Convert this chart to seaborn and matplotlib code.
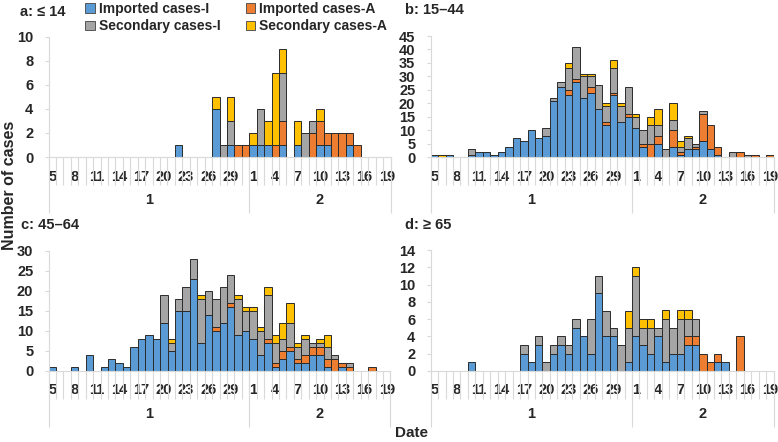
import numpy as np
import pandas as pd
import seaborn as sns
import matplotlib
matplotlib.use("Agg")
from matplotlib import pyplot as plt
from matplotlib.patches import Patch

# x axis: Jan 5..31 then Feb 1..19
jan_days = list(range(5, 32))
feb_days = list(range(1, 20))
day_labels = [str(d) for d in jan_days + feb_days]
month_labels = ["1", "2"]

kinds = ["Imported cases-I", "Imported cases-A", "Secondary cases-I", "Secondary cases-A"]
colors = ["#5B9BD5", "#ED7D31", "#A5A5A5", "#FFC000"]

# panel a: <= 14   (27 values for Jan 5-31, then 19 values for Feb 1-19)
a_imp_i = [0, 0, 0, 0, 0, 0, 0, 0, 0, 0, 0, 0, 0, 0, 0, 0, 0, 1, 0, 0, 0, 0, 4, 0, 1, 0, 0,
           1, 1, 1, 0, 1, 0, 1, 0, 0, 1, 1, 0, 0, 1, 0, 0, 0, 0, 0]
a_imp_a = [0, 0, 0, 0, 0, 0, 0, 0, 0, 0, 0, 0, 0, 0, 0, 0, 0, 0, 0, 0, 0, 0, 0, 0, 0, 1, 1,
           0, 0, 0, 1, 2, 0, 0, 0, 2, 2, 1, 2, 2, 1, 1, 0, 0, 0, 0]
a_sec_i = [0, 0, 0, 0, 0, 0, 0, 0, 0, 0, 0, 0, 0, 0, 0, 0, 0, 0, 0, 0, 0, 0, 0, 1, 2, 0, 0,
           0, 3, 0, 0, 4, 0, 0, 2, 1, 0, 0, 0, 0, 0, 0, 0, 0, 0, 0]
a_sec_a = [0, 0, 0, 0, 0, 0, 0, 0, 0, 0, 0, 0, 0, 0, 0, 0, 0, 0, 0, 0, 0, 0, 1, 0, 2, 0, 0,
           1, 0, 2, 6, 2, 0, 2, 0, 0, 1, 0, 0, 0, 0, 0, 0, 0, 0, 0]

# panel b: 15-44
b_imp_i = [1, 0, 1, 0, 0, 1, 2, 2, 1, 2, 4, 7, 6, 10, 7, 8, 21, 26, 23, 28, 22, 24, 18, 12, 23, 13, 15,
           11, 4, 0, 5, 0, 4, 1, 3, 3, 6, 3, 1, 0, 0, 0, 0, 0, 0, 0]
b_imp_a = [0, 0, 0, 0, 0, 0, 0, 0, 0, 0, 0, 0, 0, 0, 0, 0, 0, 0, 2, 1, 0, 2, 0, 1, 1, 0, 1,
           0, 1, 5, 3, 0, 6, 1, 0, 1, 10, 9, 3, 0, 0, 2, 0, 1, 0, 1]
b_sec_i = [0, 0, 0, 0, 0, 2, 0, 0, 0, 0, 0, 0, 0, 0, 0, 3, 1, 2, 8, 12, 8, 4, 9, 6, 9, 6, 10,
           4, 5, 7, 4, 3, 4, 2, 4, 1, 1, 0, 0, 0, 2, 0, 1, 0, 0, 0]
b_sec_a = [0, 1, 0, 0, 0, 0, 0, 0, 0, 0, 0, 0, 0, 0, 0, 0, 0, 0, 2, 0, 1, 1, 0, 1, 3, 1, 0,
           1, 0, 3, 6, 0, 6, 2, 1, 0, 0, 0, 0, 0, 0, 0, 0, 0, 0, 0]

# panel c: 45-64
c_imp_i = [1, 0, 0, 1, 0, 4, 0, 1, 3, 2, 1, 6, 8, 9, 8, 12, 5, 15, 15, 23, 7, 14, 10, 12, 16, 9, 10,
           8, 4, 7, 1, 3, 5, 2, 2, 4, 4, 1, 0, 1, 0, 0, 0, 0, 0, 0]
c_imp_a = [0, 0, 0, 0, 0, 0, 0, 0, 0, 0, 0, 0, 0, 0, 0, 0, 0, 0, 0, 0, 0, 0, 1, 0, 1, 0, 0,
           0, 0, 1, 1, 2, 1, 1, 2, 2, 2, 2, 3, 1, 1, 0, 0, 1, 0, 0]
c_sec_i = [0, 0, 0, 0, 0, 0, 0, 0, 0, 0, 0, 0, 0, 0, 0, 7, 2, 3, 6, 5, 11, 6, 7, 9, 7, 9, 5,
           7, 6, 11, 5, 3, 6, 3, 4, 1, 1, 3, 1, 0, 1, 0, 0, 0, 0, 0]
c_sec_a = [0, 0, 0, 0, 0, 0, 0, 0, 0, 0, 0, 0, 0, 0, 0, 0, 1, 0, 0, 0, 1, 0, 0, 0, 0, 1, 1,
           1, 1, 2, 2, 4, 5, 1, 1, 0, 1, 3, 0, 0, 0, 0, 0, 0, 0, 0]

# panel d: >= 65
d_imp_i = [0, 0, 0, 0, 0, 1, 0, 0, 0, 0, 0, 0, 2, 1, 3, 0, 2, 3, 2, 5, 4, 2, 9, 4, 4, 0, 1,
           4, 3, 2, 4, 1, 2, 2, 3, 3, 0, 0, 1, 1, 0, 0, 0, 0, 0, 0]
d_imp_a = [0, 0, 0, 0, 0, 0, 0, 0, 0, 0, 0, 0, 0, 0, 0, 0, 0, 0, 0, 0, 0, 0, 0, 0, 0, 0, 0,
           0, 0, 0, 0, 0, 0, 0, 1, 1, 2, 1, 1, 0, 0, 4, 0, 0, 0, 0]
d_sec_i = [0, 0, 0, 0, 0, 0, 0, 0, 0, 0, 0, 0, 1, 0, 1, 1, 1, 1, 1, 1, 0, 4, 2, 3, 1, 3, 4,
           7, 2, 3, 1, 5, 3, 4, 2, 2, 0, 0, 0, 0, 0, 0, 0, 0, 0, 0]
d_sec_a = [0, 0, 0, 0, 0, 0, 0, 0, 0, 0, 0, 0, 0, 0, 0, 0, 0, 0, 0, 0, 0, 0, 0, 0, 0, 0, 2,
           1, 1, 1, 0, 1, 0, 1, 1, 0, 0, 0, 0, 0, 0, 0, 0, 0, 0, 0]

panels = [
    ("a: \u2264 14", [a_imp_i, a_imp_a, a_sec_i, a_sec_a], 10, 2),
    ("b: 15\u201344", [b_imp_i, b_imp_a, b_sec_i, b_sec_a], 45, 5),
    ("c: 45\u201364", [c_imp_i, c_imp_a, c_sec_i, c_sec_a], 30, 5),
    ("d: \u2265 65", [d_imp_i, d_imp_a, d_sec_i, d_sec_a], 14, 2),
]


def long_frame(series):
    rows = []
    for kind, counts in zip(kinds, series):
        for i, n in enumerate(counts):
            if n:
                rows.append((i, kind, n))
    return pd.DataFrame(rows, columns=["day", "kind", "cases"])


sns.set_theme(style="white")
plt.rcParams["font.family"] = ["Liberation Sans", "DejaVu Sans"]
plt.rcParams["font.weight"] = "bold"

fig = plt.figure(figsize=(7.78, 4.42), dpi=100)
W, H = 778, 442
# axes boxes in pixels: left, top, right, bottom
boxes = [(48.5, 36.7, 390.5, 157), (430.6, 36, 773.7, 157.3),
         (48.6, 250.7, 390.5, 371), (430.6, 250, 773.7, 371)]
title_pos = [(20, 12), (405, 10), (21, 225), (405, 225)]
grid = "#D9D9D9"
palette = dict(zip(kinds, colors))

for (title, series, ymax, ystep), (l, t, r, b), (tx, ty) in zip(panels, boxes, title_pos):
    ax = fig.add_axes([l / W, 1 - b / H, (r - l) / W, (b - t) / H])
    sns.histplot(data=long_frame(series), x="day", weights="cases", hue="kind",
                 hue_order=kinds[::-1], palette=palette, multiple="stack",
                 discrete=True, binrange=(0, 45), shrink=1, alpha=1,
                 edgecolor="#2b2b2b", linewidth=0.7, legend=False, ax=ax)
    # empty days would otherwise leave flat outlines on the baseline
    for p in ax.patches:
        if p.get_height() == 0:
            p.set_visible(False)
    ax.set(xlabel="", ylabel="")
    ax.set_xlim(-0.5, 45.5)
    ax.set_ylim(0, ymax)
    ax.set_yticks(np.arange(0, ymax + 1, ystep))
    ax.set_xticks(range(0, 46, 3))
    ax.set_xticklabels(day_labels[::3])
    ax.set_xticks(np.arange(-0.5, 46, 1), minor=True)
    ax.tick_params(axis="x", which="major", bottom=True, length=0, pad=9, labelsize=10.5)
    ax.tick_params(axis="x", which="minor", bottom=True, length=20, color=grid, width=0.8)
    ax.tick_params(axis="y", left=True, length=3, color=grid, width=0.8, pad=8, labelsize=10.5)
    for side in ("top", "right"):
        ax.spines[side].set_visible(False)
    for side in ("left", "bottom"):
        ax.spines[side].set_color(grid)
        ax.spines[side].set_linewidth(0.8)

    # second category level: month
    sec = ax.secondary_xaxis("bottom")
    sec.set_xticks([-0.5, 26.5, 45.5])
    sec.set_xticklabels(["", "", ""])
    sec.set_xticks([13, 36], labels=month_labels, minor=True)
    sec.tick_params(which="major", bottom=True, length=40, color=grid, width=0.8)
    sec.tick_params(which="minor", bottom=True, length=0, pad=26, labelsize=10.5)
    sec.spines["bottom"].set_visible(False)

    fig.text(tx / W, 1 - ty / H, title, ha="left", va="center", fontsize=10.5)

handles = [Patch(facecolor=c, edgecolor="#555555", linewidth=0.7) for c in colors]
order = [0, 2, 1, 3]
fig.legend([handles[i] for i in order], [kinds[i] for i in order], ncol=2,
           loc="upper left", bbox_to_anchor=(85 / W, 1 - 2 / H), frameon=False,
           fontsize=10, handlelength=0.7, handleheight=0.7, handletextpad=0.3,
           labelspacing=0.25, columnspacing=1.8, borderpad=0, borderaxespad=0)

fig.text(10 / W, 1 - 185 / H, "Number of cases", rotation=90, ha="center", va="center",
         fontsize=11.5)
fig.text(412 / W, 1 - 433 / H, "Date", ha="center", va="center", fontsize=11)

fig.savefig("out.png", dpi=100)
